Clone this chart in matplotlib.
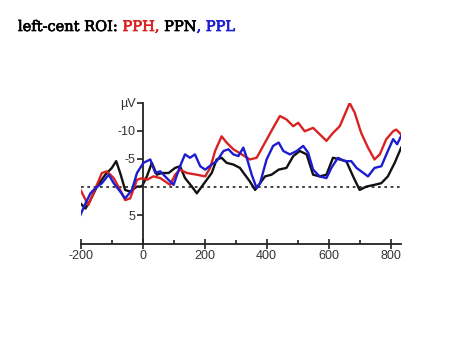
import matplotlib
matplotlib.use('Agg')
from matplotlib import pyplot as plt
from matplotlib import patheffects as pe

plt.rcParams['axes.unicode_minus'] = False

# ERP waveforms, left-central ROI (time in ms, amplitude in uV, negative up)
t_pph = [-200, -175, -158, -131, -115, -93, -72, -56, -40, -18, 0, 14, 35, 57, 89, 105, 121, 143,
         175, 202, 218, 234, 255, 271, 293, 320, 346, 368, 389, 421, 443, 464, 486, 502, 523, 550,
         582, 593, 614, 636, 657, 668, 684, 705, 727, 748, 765, 786, 808, 818, 834]
v_pph = [0.5, 3.2, 1.0, -2.5, -2.8, -1.6, 0.5, 2.3, 2.0, -1.3, -1.6, -1.3, -1.9, -1.6, -0.4, -2.2, -3.1, -2.5,
         -2.2, -1.9, -3.4, -6.4, -9.0, -7.9, -6.7, -5.8, -4.9, -5.2, -7.3, -10.5, -12.6, -12.0, -10.8, -11.4, -9.9, -10.5,
         -8.8, -8.2, -9.6, -10.8, -13.5, -14.9, -13.2, -9.6, -7.0, -4.9, -5.8, -8.5, -9.9, -10.2, -9.3]

t_ppn = [-200, -184, -168, -147, -120, -99, -85, -72, -56, -40, -18, -2, 14, 30, 46, 62, 84, 105, 121,
         137, 159, 175, 191, 207, 223, 239, 255, 271, 293, 314, 330, 346, 363, 379, 395, 416, 439, 464,
         486, 507, 529, 550, 571, 593, 614, 636, 657, 679, 700, 722, 748, 770, 791, 813, 834]
v_ppn = [2.9, 3.8, 2.3, -0.1, -2.2, -3.4, -4.6, -2.5, 0.5, 0.8, -0.1, -0.1, -1.9, -4.3, -2.2, -2.5, -2.5, -3.4, -3.7,
         -1.6, -0.1, 1.1, -0.1, -1.3, -2.5, -4.9, -5.2, -4.3, -4.0, -3.4, -2.2, -1.0, 0.5, -0.7, -1.9, -2.2, -3.1, -3.4,
         -5.5, -6.4, -5.8, -2.2, -1.9, -2.2, -5.2, -4.9, -4.6, -1.9, 0.5, -0.1, -0.4, -0.7, -1.9, -4.3, -7.0]

t_ppl = [-200, -184, -168, -152, -131, -109, -93, -72, -56, -34, -18, 3, 25, 41, 57, 78, 100, 121, 137,
         153, 169, 186, 202, 223, 239, 261, 277, 293, 309, 325, 336, 352, 368, 379, 400, 421, 439, 454,
         475, 497, 518, 534, 550, 571, 593, 609, 630, 652, 673, 690, 705, 727, 748, 770, 791, 808, 821, 834]
v_ppl = [4.9, 2.9, 1.1, 0.2, -0.7, -2.2, -0.7, 0.8, 2.0, 0.5, -2.5, -4.3, -4.9, -2.5, -2.8, -1.6, -0.4, -3.7, -5.8,
         -5.2, -5.8, -3.7, -3.1, -4.0, -4.6, -6.4, -6.7, -5.8, -5.5, -7.0, -5.2, -2.2, 0.2, -0.7, -4.9, -7.3, -7.9, -6.4,
         -5.8, -6.4, -7.3, -6.1, -3.1, -1.9, -1.6, -3.4, -5.2, -4.6, -4.6, -3.4, -2.8, -1.9, -3.4, -3.7, -6.4, -8.5, -7.6, -9.1]

x_ticks = [-200, 0, 200, 400, 600, 800]
x_minor = [-100, 100, 300, 500, 700]
y_ticks = [-15, -10, -5, 5]
y_labels = ['µV', '-10', '-5', '5']

fig = plt.figure(figsize=(4.72, 3.54), dpi=100)
ax = fig.add_axes([80.5 / 472, (354 - 243.5) / 354, 321 / 472, 141 / 354])

ax.axhline(0, color='#333333', lw=1.3, ls=(0, (1.5, 2)), zorder=1)
ax.plot(t_ppn, v_ppn, color='#111111', lw=1.7, zorder=2)
ax.plot(t_pph, v_pph, color='#d92222', lw=1.7, zorder=3)
ax.plot(t_ppl, v_ppl, color='#1c1cd0', lw=1.7, zorder=4)

ax.set_xlim(-200, 835)
ax.set_ylim(10, -15)

for s in ['top', 'right']:
    ax.spines[s].set_visible(False)
ax.spines['left'].set_position(('data', 0))
ax.spines['left'].set_bounds(10, -15)
ax.spines['left'].set_linewidth(1.3)
ax.spines['bottom'].set_linewidth(1.3)
ax.spines['left'].set_color('#222222')
ax.spines['bottom'].set_color('#222222')

ax.set_xticks(x_ticks)
ax.set_xticks(x_minor, minor=True)
ax.set_yticks(y_ticks)
ax.set_yticklabels(y_labels)
ax.tick_params(axis='x', which='major', direction='inout', length=7, width=1.2, color='#222222',
               labelsize=9, labelcolor='#333333', pad=1)
ax.tick_params(axis='x', which='minor', direction='in', length=3, width=1.2, color='#222222')
ax.tick_params(axis='y', direction='out', length=4, width=1.2, color='#222222',
               labelsize=9, labelcolor='#333333', pad=1)
for lab in ax.get_xticklabels() + ax.get_yticklabels():
    lab.set_fontfamily('Liberation Sans')

# title built from coloured pieces
pieces = [('left-cent ROI: ', 'black'), ('PPH,', '#d92222'), (' PPN', 'black'), (', PPL', '#1c1cd0')]
fig.canvas.draw()
r = fig.canvas.get_renderer()
x = 18 / 472
for txt, col in pieces:
    tt = fig.text(x, 1 - 31 / 354, txt, color=col, fontsize=10.5, family='DejaVu Serif', va='baseline',
                  path_effects=[pe.withStroke(linewidth=0.5, foreground=col)])
    bb = tt.get_window_extent(r)
    x += bb.width / 472

fig.savefig('out.png', dpi=100)
